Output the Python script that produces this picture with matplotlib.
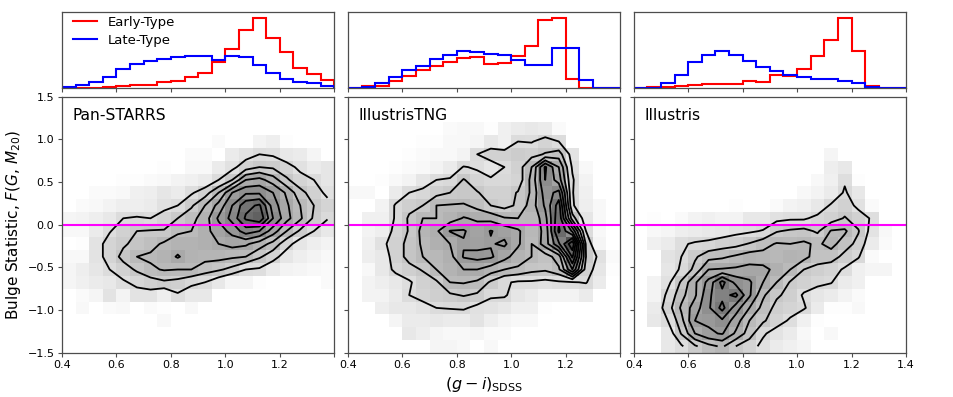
import numpy as np
import matplotlib
matplotlib.use("Agg")
import matplotlib.pyplot as plt

W, H = 954, 397
names = ["Pan-STARRS", "IllustrisTNG", "Illustris"]
x_edges = np.linspace(0.4, 1.4, 21)
y_edges = np.linspace(1.5, -1.5, 21)
levels = [14, 21, 27, 33, 39, 45, 51, 57, 63]
Z = [0] * 20

# histogram heights (arbitrary units, per colour bin)
early_pan = [1, 1, 2, 4, 7, 11, 11, 18, 21, 33, 47, 78, 117, 175, 210, 150, 107, 62, 43, 25]
late_pan = [3, 9, 20, 35, 59, 72, 81, 89, 95, 98, 97, 84, 98, 95, 70, 45, 29, 19, 15, 8]
early_tng = [1, 6, 8, 22, 38, 56, 68, 80, 91, 94, 73, 75, 98, 127, 205, 210, 28, 1, 0, 0]
late_tng = [1, 4, 15, 34, 55, 67, 89, 100, 112, 107, 103, 101, 86, 70, 70, 121, 120, 24, 0, 0]
early_ill = [0, 4, 5, 8, 10, 12, 14, 12, 23, 18, 39, 37, 58, 98, 144, 210, 112, 6, 1, 0]
late_ill = [0, 1, 15, 39, 79, 100, 111, 99, 83, 64, 51, 41, 34, 27, 28, 22, 15, 3, 0, 0]

# 2D histogram values (darkness, percent), top row first
grid_pan = [
    Z, Z, Z,
    [0, 0, 0, 0, 0, 0, 0, 0, 0, 0, 0, 2, 0, 0, 5, 7, 1, 0, 0, 0],
    [0, 0, 0, 0, 0, 0, 0, 0, 0, 2, 2, 0, 8, 11, 14, 13, 9, 8, 4, 0],
    [0, 0, 0, 0, 0, 0, 0, 1, 0, 3, 3, 8, 12, 18, 21, 20, 17, 12, 8, 10],
    [0, 0, 0, 0, 1, 1, 2, 3, 5, 6, 8, 14, 21, 33, 35, 30, 22, 17, 14, 10],
    [0, 0, 2, 2, 3, 6, 7, 10, 8, 13, 18, 27, 39, 44, 44, 39, 32, 23, 18, 12],
    [0, 2, 3, 5, 7, 7, 8, 12, 14, 20, 27, 35, 45, 55, 58, 42, 34, 27, 21, 17],
    [4, 5, 7, 9, 14, 15, 14, 17, 21, 25, 30, 40, 47, 58, 62, 45, 35, 28, 20, 14.5],
    [3, 3, 8, 13.5, 18, 21, 21.5, 21.5, 26, 27, 31, 36, 41, 48, 45, 36, 27, 20, 14, 9],
    [0, 1, 11, 17, 20, 23, 25, 28, 30, 30, 31, 33, 35, 34, 30, 25, 17, 10, 7, 5],
    [3, 3, 11, 17, 23, 27, 28, 30, 33.6, 30, 29, 29, 28, 27, 22, 17, 10, 7, 5, 3],
    [4, 7, 10, 14, 18, 22, 26, 27.5, 27, 27, 24, 22, 19, 14, 13, 8, 5, 4, 3, 2],
    [4, 6, 8, 9, 13, 16, 18, 20, 19, 16, 14, 9, 4, 4, 1, 0, 0, 0, 0, 2],
    [0, 2, 4, 11, 5, 11, 11, 7, 13, 9, 9, 0, 0, 0, 0, 0, 0, 0, 0, 0],
    [0, 3, 0, 2, 3, 0, 2, 1, 0, 3, 0, 0, 0, 0, 0, 0, 0, 0, 0, 0],
    [0, 0, 0, 0, 0, 0, 0, 3, 0, 0, 0, 0, 0, 0, 0, 0, 0, 0, 0, 0],
    Z, Z,
]
grid_tng = [
    Z, Z,
    [0, 0, 0, 0, 0, 0, 0, 2, 3, 3, 1, 6, 8, 9, 8, 2, 0, 0, 0, 0],
    [0, 0, 0, 0, 0, 1, 1, 3, 3, 4, 9, 6, 14, 13.5, 17, 14, 0, 0, 0, 0],
    [0, 0, 0, 0, 1, 2, 3, 3, 5, 14, 18, 18, 20, 19, 21.5, 24, 11, 0, 0, 0],
    [0, 0, 0, 1, 2, 3, 5, 8, 14.5, 13, 10, 14, 18, 27, 46, 33, 13, 3, 0, 0],
    [0, 0, 1, 3, 5, 10, 14, 15, 21.5, 17, 15, 15, 17, 29, 45, 36, 15, 5, 0, 0],
    [3, 3, 0, 8, 14, 16, 19, 21, 21.5, 21.5, 18, 18, 21.5, 28, 42, 47, 14.5, 6, 0, 0],
    [0, 0, 5, 15, 19, 21, 27, 27.5, 28, 25, 21, 19, 22, 30, 40, 54, 15, 7, 3, 0],
    [0, 6, 6, 15, 22, 27, 27, 30, 33.5, 32, 31, 27.5, 27, 27.5, 37, 56, 24, 10, 3, 0],
    [0, 5, 7, 17, 21.5, 29, 32, 39.3, 39.6, 36, 39.3, 37, 34, 28, 35, 58, 44, 14, 3, 0],
    [0, 6, 12, 18, 23, 28, 31, 33, 38.5, 37, 38.5, 40, 34, 27, 36, 50, 68, 20, 4, 0],
    [0, 7, 9, 18, 23, 27, 28, 31, 39.5, 41, 40, 35, 30, 27, 24, 30, 58, 21, 12, 2],
    [0, 3, 9, 16, 19, 21.5, 27, 30, 33, 33, 30, 27, 26, 23, 22, 26, 45, 18, 10, 1],
    [0, 5, 7, 9, 13, 18, 20, 27, 27.5, 26, 20, 15, 13, 13, 12, 13, 13.5, 14.5, 8, 0],
    [0, 5, 5, 8, 14, 17, 19, 20, 21.5, 20, 15, 15, 10, 8, 5, 5, 5, 8, 0, 0],
    [0, 0, 7, 9, 9, 11, 14, 14.5, 15, 12, 11, 9, 6, 6, 1, 0, 0, 0, 0, 0],
    [0, 0, 0, 4, 8, 8, 9, 8, 8, 11, 7, 4, 3, 3, 0, 0, 0, 0, 0, 0],
    [0, 0, 0, 0, 9, 7, 4, 3, 3, 4, 2, 2, 0, 0, 0, 0, 0, 0, 0, 0],
    [0, 0, 0, 0, 0, 0, 4, 4, 3, 0, 3, 0, 0, 0, 0, 0, 0, 0, 0, 0],
]
grid_ill = [
    Z, Z, Z, Z,
    [0, 0, 0, 0, 0, 0, 0, 0, 0, 0, 0, 0, 0, 0, 4, 0, 0, 0, 0, 0],
    [0, 0, 0, 0, 0, 0, 0, 0, 0, 0, 0, 0, 0, 0, 7, 9, 0, 0, 0, 0],
    [0, 0, 0, 0, 0, 0, 0, 0, 0, 0, 0, 0, 0, 3, 6, 13, 1, 0, 0, 0],
    [0, 0, 0, 0, 0, 0, 0, 0, 0, 0, 0, 0, 3, 5, 8, 15, 9, 0, 0, 0],
    [0, 0, 0, 0, 0, 0, 0, 1, 0, 0, 2, 5, 6, 9, 15, 18, 12, 2, 0, 0],
    [0, 1, 0, 2, 5, 6, 5, 5, 9, 9, 12, 13, 13, 16, 18, 21.5, 18, 13, 0, 0],
    [0, 3, 4, 7, 8, 9, 10, 12, 13, 14.5, 20.5, 22, 23, 20, 27.5, 28, 21.5, 11, 3, 0],
    [0, 6, 8, 13, 15, 16, 18, 19, 21.5, 25, 27.5, 27, 28, 26, 29, 24, 19, 8, 2, 0],
    [0, 0, 11, 14, 20, 25, 26, 28, 30, 29, 28, 30, 29, 24, 24, 19, 15, 2, 0, 0],
    [0, 0, 10, 15, 23, 33, 33.5, 34, 35, 35, 31, 27, 21, 19, 17, 13, 6, 4, 4, 0],
    [0, 5, 12, 22, 32, 41, 53, 43, 40, 33, 27, 20.5, 18, 16, 14.5, 8, 6, 0, 0, 0],
    [0, 5, 16, 25, 32, 44, 49, 52.5, 40, 28, 22, 19, 13, 10, 8, 5, 2, 0, 0, 0],
    [0, 8, 18, 28, 36, 44, 53, 42, 33, 25, 19, 17, 15, 8, 1, 1, 3, 0, 0, 0],
    [0, 9, 14, 25, 39, 40, 44, 36, 27, 22, 17, 13, 6, 1, 0, 0, 0, 0, 0, 0],
    [0, 0, 9, 21.5, 33, 38, 39.5, 32, 24, 15, 11, 8, 3, 0, 3, 0, 0, 0, 0, 0],
    [0, 0, 9, 13, 20, 25, 28, 21, 17, 12, 8, 6, 4, 0, 0, 0, 0, 0, 0, 0],
]

grids = [grid_pan, grid_tng, grid_ill]
early = [early_pan, early_tng, early_ill]
late = [late_pan, late_tng, late_ill]
x_ticklabels = [
    ["0.4", "0.6", "0.8", "1.0", "1.2", ""],
    ["0.4", "0.6", "0.8", "1.0", "1.2", ""],
    ["0.4", "0.6", "0.8", "1.0", "1.2", "1.4"],
]
x_ticks = [0.4, 0.6, 0.8, 1.0, 1.2, 1.4]
y_ticks = [-1.5, -1.0, -0.5, 0.0, 0.5, 1.0, 1.5]
lefts = [62, 348, 633.7]
widths = [272.3, 272, 272.3]
spine = "#4d4d4d"

plt.rcParams["mathtext.fontset"] = "dejavusans"
plt.rcParams["font.family"] = "DejaVu Sans"
fig = plt.figure(figsize=(W / 100, H / 100), dpi=100)


def box(l, t, w, h):
    return [l / W, 1 - (t + h) / H, w / W, h / H]


x_centers = 0.5 * (x_edges[:-1] + x_edges[1:])
y_centers = 0.5 * (y_edges[:-1] + y_edges[1:])

for i in range(3):
    top = fig.add_axes(box(lefts[i], 12, widths[i], 76.3))
    top.stairs(early[i], x_edges, color="red", lw=1.5, label="Early-Type")
    top.stairs(late[i], x_edges, color="blue", lw=1.5, label="Late-Type")
    top.set_xlim(0.4, 1.4)
    top.set_ylim(0, 228)
    top.set_yticks([])
    top.set_xticks(x_ticks)
    top.set_xticklabels([])
    top.tick_params(axis="x", length=3, width=0.8, color=spine)
    if i == 0:
        top.legend(loc="upper left", bbox_to_anchor=(11 / 272, 1 - 4 / 76), frameon=False,
                   fontsize=9.5, handlelength=1.85, handletextpad=0.76,
                   labelspacing=0.36, borderaxespad=0, borderpad=0)
    main = fig.add_axes(box(lefts[i], 96.7, widths[i], 256))
    g = np.array(grids[i], dtype=float)
    main.pcolormesh(x_edges, y_edges, g, cmap="gray_r", vmin=0, vmax=100, rasterized=True)
    main.contour(x_centers, y_centers, g, levels=levels, colors="k", linewidths=1.3)
    main.axhline(0, color="magenta", lw=1.5)
    main.set_xlim(0.4, 1.4)
    main.set_ylim(-1.5, 1.5)
    main.set_xticks(x_ticks)
    main.set_xticklabels(x_ticklabels[i])
    main.set_yticks(y_ticks)
    if i > 0:
        main.set_yticklabels([])
    main.tick_params(labelsize=8, length=3, width=0.8, pad=2.5, color=spine)
    main.text(0.04, 0.954, names[i], transform=main.transAxes, fontsize=11.2, va="top", ha="left")
    for ax in (top, main):
        for s in ax.spines.values():
            s.set_color(spine)
            s.set_linewidth(0.9)
    if i == 0:
        main.set_ylabel(r"Bulge Statistic, $F(G,\, M_{20})$", fontsize=11, labelpad=3)
    if i == 1:
        main.set_xlabel(r"$(g-i)_{\mathrm{SDSS}}$", fontsize=11.5, labelpad=3)

fig.savefig("out.png", dpi=100)
